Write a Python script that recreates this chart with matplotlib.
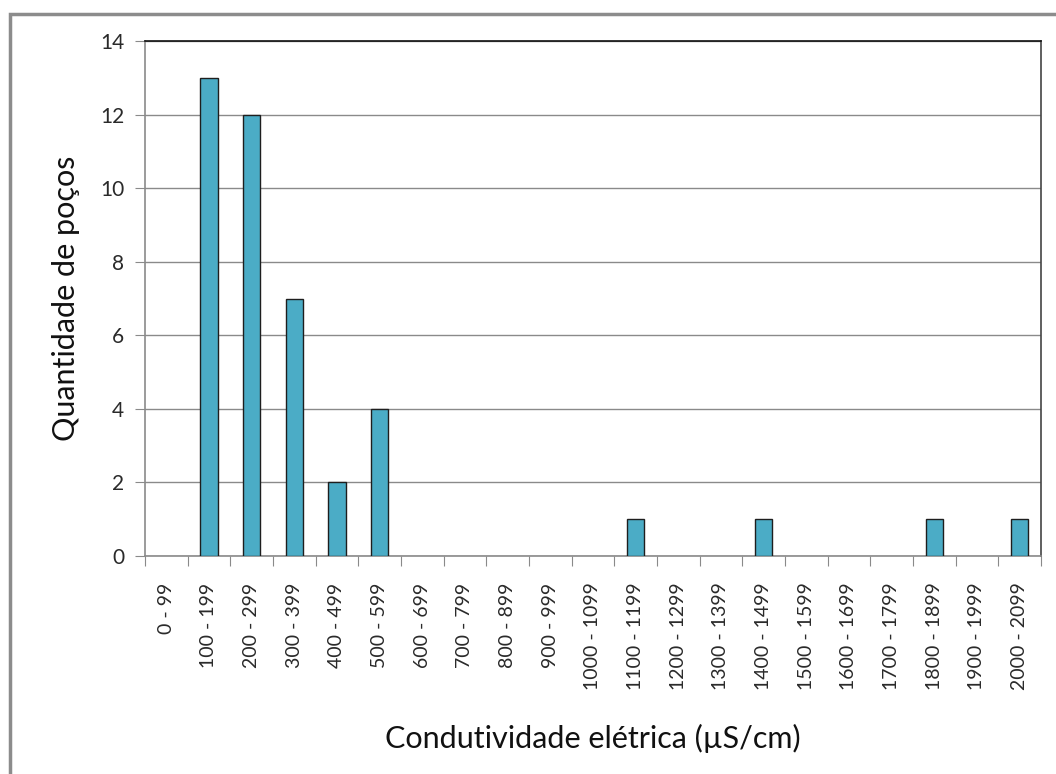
import matplotlib.pyplot as plt
from matplotlib.patches import Rectangle

# classes de condutividade elétrica e número de poços em cada uma
classes = ['0 - 99', '100 - 199', '200 - 299', '300 - 399', '400 - 499',
           '500 - 599', '600 - 699', '700 - 799', '800 - 899', '900 - 999',
           '1000 - 1099', '1100 - 1199', '1200 - 1299', '1300 - 1399',
           '1400 - 1499', '1500 - 1599', '1600 - 1699', '1700 - 1799',
           '1800 - 1899', '1900 - 1999', '2000 - 2099']
pocos = [0, 13, 12, 7, 2, 4, 0, 0, 0, 0, 0, 1, 0, 0, 1, 0, 0, 0, 1, 0, 1]

plt.rcParams['font.family'] = ['Lato', 'DejaVu Sans']

fig = plt.figure(figsize=(10.56, 7.74), dpi=100)
ax = fig.add_axes([145/1056, 1 - 556/774, (1041 - 145)/1056, (556 - 41)/774])

# moldura externa do gráfico
fig.patches.append(Rectangle((10/1056, -0.1), 1.2, 1 - 14/774 + 0.1,
                             transform=fig.transFigure, fill=False,
                             edgecolor='#8c8c8c', linewidth=2.5))

x = range(len(classes))
# classes vazias ficam sem contorno
bordas = [1.0 if v > 0 else 0 for v in pocos]
ax.bar(x, pocos, width=0.4, color='#4BACC6', edgecolor='#1e1e1e',
       linewidth=bordas, zorder=3)

ax.set_xlim(-0.5, len(classes) - 0.5)
ax.set_ylim(0, 14)
ax.set_yticks(range(0, 15, 2))
ax.yaxis.grid(True, color='#8a8a8a', linewidth=1.0, zorder=0)

# ticks do eixo x nas divisões entre classes
ax.set_xticks([i - 0.5 for i in range(len(classes) + 1)])
ax.set_xticklabels([])
ax.set_xticks(list(x), minor=True)
ax.set_xticklabels(classes, minor=True, rotation=90, fontsize=14,
                   color='#2a2a2a')
ax.tick_params(axis='x', which='minor', length=0, pad=19)
ax.tick_params(axis='x', which='major', length=7, color='#8a8a8a')
ax.tick_params(axis='y', length=7, color='#8a8a8a', labelsize=15,
               labelcolor='#2a2a2a', pad=8)

for s in ['left', 'bottom']:
    ax.spines[s].set_color('#8a8a8a')
ax.spines['top'].set_color('#111111')
ax.spines['right'].set_color('#444444')
for s in ax.spines.values():
    s.set_linewidth(1.2)

ax.set_ylabel('Quantidade de poços', fontsize=22, color='#111111',
              labelpad=14)
ax.set_xlabel('Condutividade elétrica (µS/cm)', fontsize=22,
              color='#111111', labelpad=24)

plt.savefig('out.png', dpi=100)
